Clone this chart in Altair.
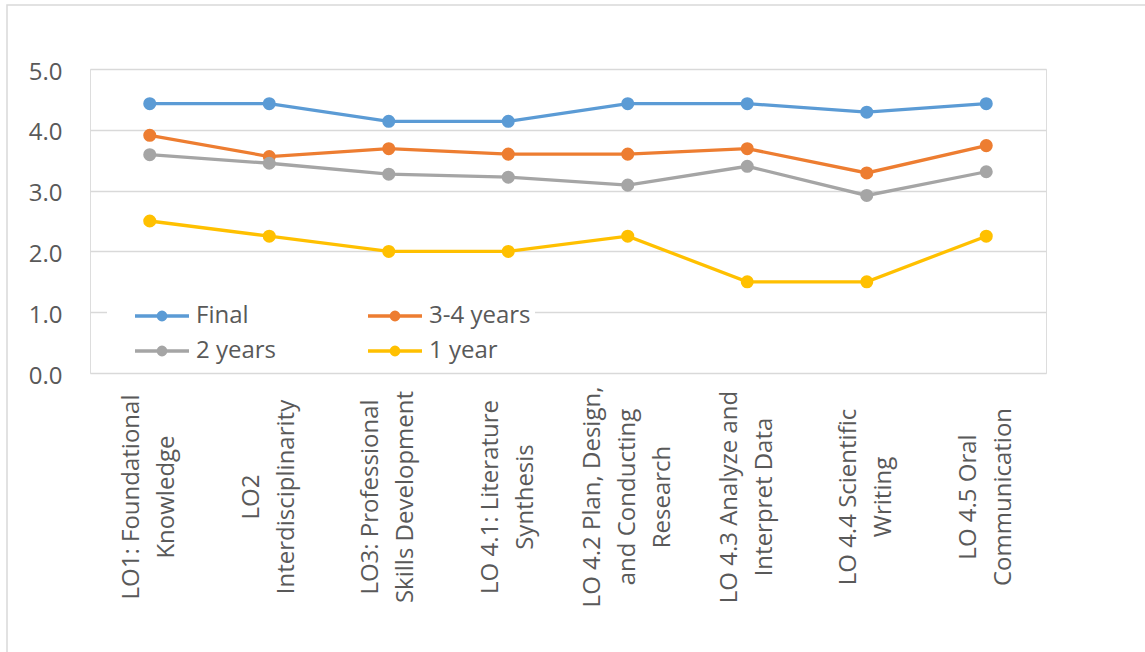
import altair as alt
import pandas as pd

categories = [
    "LO1: Foundational\nKnowledge",
    "LO2\nInterdisciplinarity",
    "LO3: Professional\nSkills Development",
    "LO 4.1: Literature\nSynthesis",
    "LO 4.2 Plan, Design,\nand Conducting\nResearch",
    "LO 4.3 Analyze and\nInterpret Data",
    "LO 4.4 Scientific\nWriting",
    "LO 4.5 Oral\nCommunication",
]
series_names = ["Final", "3-4 years", "2 years", "1 year"]
final = [4.43, 4.43, 4.14, 4.14, 4.43, 4.43, 4.29, 4.43]
years_3_4 = [3.91, 3.56, 3.69, 3.60, 3.60, 3.69, 3.29, 3.74]
years_2 = [3.59, 3.45, 3.27, 3.22, 3.09, 3.40, 2.92, 3.31]
year_1 = [2.50, 2.25, 2.00, 2.00, 2.25, 1.50, 1.50, 2.25]
colors = ["#5B9BD5", "#ED7D31", "#A5A5A5", "#FFC000"]

rows = []
for name, vals in zip(series_names, [final, years_3_4, years_2, year_1]):
    for c, v in zip(categories, vals):
        rows.append({"cat": c, "series": name, "value": v})
df = pd.DataFrame(rows)

FONT = "Open Sans"
TXT = "#595959"
GRID = "#d9d9d9"
LINE_H = 35

band = alt.Scale(type="band", paddingInner=0, paddingOuter=0)
x_enc = alt.X(
    "cat:N",
    sort=categories,
    scale=band,
    axis=alt.Axis(
        title=None, labels=False, ticks=False, grid=True, bandPosition=0,
        gridColor=GRID, gridWidth=1.5, domainColor=GRID, domainWidth=1.5,
    ),
)
y_enc = alt.Y(
    "value:Q",
    scale=alt.Scale(domain=[0, 5], nice=False),
    axis=alt.Axis(
        title=None, values=[0, 1, 2, 3, 4, 5], format=".1f", ticks=False, tickSize=0,
        domain=False, gridColor=GRID, gridWidth=1.5, labelFont=FONT,
        labelFontSize=24, labelColor=TXT, labelPadding=28, labelOffset=3,
    ),
)
stroke_scale = alt.Scale(domain=series_names, range=colors)

legend_symbol = "M-1.8,0H1.8M0,-0.25A0.25,0.25 0 1,1 0,0.25A0.25,0.25 0 1,1 0,-0.25"

layers = []
for i, name in enumerate(series_names):
    base = alt.Chart(df).transform_filter(alt.datum.series == name)
    line = base.mark_line(strokeWidth=3.3).encode(
        x=x_enc,
        y=y_enc,
        stroke=alt.Stroke(
            "series:N", scale=stroke_scale, sort=series_names,
            legend=alt.Legend(
                title=None, orient="none", legendX=17, legendY=226, columns=2,
                direction="horizontal",
                symbolType=legend_symbol, symbolSize=900, symbolStrokeWidth=3.3,
                labelFont=FONT, labelFontSize=24, labelColor=TXT, labelOffset=17,
                columnPadding=67, rowPadding=6, padding=4, fillColor="white",
                symbolOffset=34, labelLimit=300,
            ),
        ),
    )
    pts = base.mark_point(filled=True, size=170, opacity=1).encode(
        x=x_enc,
        y=y_enc,
        fill=alt.Fill("series:N", scale=stroke_scale, legend=None),
    )
    layers += [line, pts]

labels = alt.Chart(pd.DataFrame({"cat": categories})).mark_text(
    angle=270, align="center", baseline="middle", lineBreak="\n", lineHeight=LINE_H,
    font=FONT, fontSize=24, color=TXT,
    dy=alt.expr(f"-(length(split(datum.cat, '\\n')) - 1) * {LINE_H / 2}"),
).encode(x=alt.X("cat:N", sort=categories, scale=band, axis=None),
         y=alt.value(428), text="cat:N")

border = alt.Chart(pd.DataFrame({"a": [0]})).mark_rect(
    fill=None, stroke=GRID, strokeWidth=1.5
).encode(x=alt.value(-83), x2=alt.value(1200), y=alt.value(-64), y2=alt.value(700))

chart = alt.layer(border, *layers, labels).properties(
    width=956, height=304,
    padding={"left": 90, "top": 69, "right": 99, "bottom": 279},
    autosize=alt.AutoSizeParams(type="none"),
).configure_view(stroke=GRID, strokeWidth=1.5).configure(background="white")

chart.save("out.html", embed_options={"renderer": "svg", "actions": False})
